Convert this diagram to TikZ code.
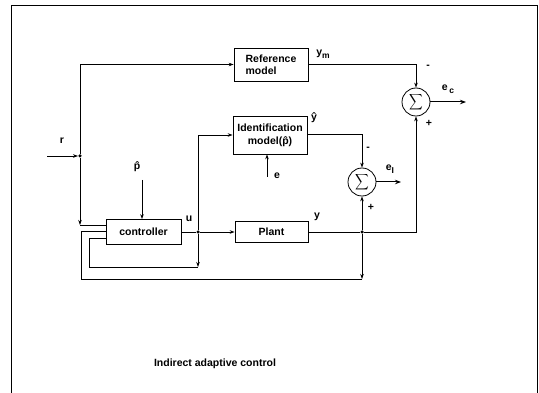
\documentclass[tikz,border=0pt]{standalone}
\usepackage{fontspec}
\setmainfont{Liberation Sans}
\usetikzlibrary{arrows.meta}
\newcommand{\lowsub}[1]{\raisebox{-2.5pt}{\fontsize{8.5}{9}\selectfont #1}}
\begin{document}
\begin{tikzpicture}[x=1pt,y=-1pt,
  every node/.style={font=\fontsize{10.5}{12}\selectfont\bfseries},
  blk/.style={draw,line width=0.75pt,rectangle,inner sep=0pt,align=left},
  sumc/.style={draw,line width=0.8pt,circle,minimum size=28pt,inner sep=0pt},
  jdot/.style={circle,fill,inner sep=0pt,minimum size=3.5pt},
  wire/.style={line width=0.65pt},
  arr/.style={wire,-{Stealth[length=5pt,width=3.5pt]}},
  outarr/.style={line width=1pt,-{Stealth[length=6pt,width=4.5pt]}},
  lbl/.style={inner sep=0pt}]
\useasboundingbox (0,0) rectangle (539,393);
% frame
\draw[line width=0.7pt] (11,393) -- (11,5) -- (537,5) -- (537,393);
% blocks
\node[blk,minimum width=74pt,minimum height=33pt] (ref) at (271,64.5) {Reference\\model};
\node[blk,minimum width=74pt,minimum height=38pt,align=center] (ident) at (270,135) {Identification\\[1pt]model(\^{p})};
\node[blk,minimum width=75pt,minimum height=25pt] (ctrl) at (143.5,232) {controller};
\node[blk,minimum width=73pt,minimum height=21pt] (plant) at (271.5,232) {Plant};
\node[sumc] (s1) at (416,102) {\scalebox{0.95}[1.1]{$\displaystyle\sum$}};
\node[sumc] (s2) at (362,182) {\scalebox{0.95}[1.1]{$\displaystyle\sum$}};
% junctions
\node[jdot] (rj) at (80,156) {};
\node[jdot] (uj) at (198,232) {};
\node[jdot] (yj) at (362,232) {};
% free ends
\coordinate (rin) at (47,156);
\coordinate (ecout) at (466,102);
\coordinate (eiout) at (401,182);
\coordinate (pin) at (142,180);
\coordinate (ein) at (267,177);
\coordinate (c1) at (80,225);
\coordinate (c2) at (362,279);
\coordinate (c3) at (198,267);
% connectors
\draw[arr] (rin) -- (rj);
\draw[arr] (rj) |- (ref.west);
\draw[arr] (ref.east) -| (s1.north);
\draw[outarr] (s1.east) -- (ecout);
\draw[wire] (plant.east) -- (yj);
\draw[arr] (yj) -| (s1.south);
\draw[arr] (yj) -- (s2.south);
\draw[arr] (ident.east |- 0,134) -| (s2.north);
\draw[outarr] (s2.east) -- (eiout);
\draw[wire] (ctrl.east) -- (uj);
\draw[arr] (uj) -- (plant.west);
\draw[arr] (uj) |- (ident.west);
\draw[arr] (pin) -- (pin |- ctrl.north);
\draw[arr] (ein) -- (ein |- ident.south);
% feedback to controller
\draw[arr] (rj) -- (c1);
\draw[wire] (c1) -- (ctrl.west |- c1);
\draw[arr] (yj) -- (c2);
\draw[wire] (c2) -- (81,279) -- (81,231) -- (ctrl.west |- 0,231);
\draw[arr] (uj) -- (c3);
\draw[wire] (c3) -- (89,267) -- (89,238) -- (ctrl.west |- 0,238);
% labels
\node[lbl] at (62,141) {r};
\node[lbl] at (137,167) {\^{p}};
\node[lbl] at (277,176) {e};
\node[lbl] at (189,219) {u};
\node[lbl] at (317,217) {y};
\node[lbl] at (323,54) {y\lowsub{m}};
\node[lbl] at (314,118) {ŷ};
\node[lbl] at (428,67) {-};
\node[lbl] at (429,123) {+};
\node[lbl] at (448,89) {e\,\lowsub{c}};
\node[lbl] at (368,149) {-};
\node[lbl] at (371,207) {+};
\node[lbl] at (390,169) {e\lowsub{I}};
\node[lbl] at (215,364) {Indirect adaptive control};
\end{tikzpicture}
\end{document}
